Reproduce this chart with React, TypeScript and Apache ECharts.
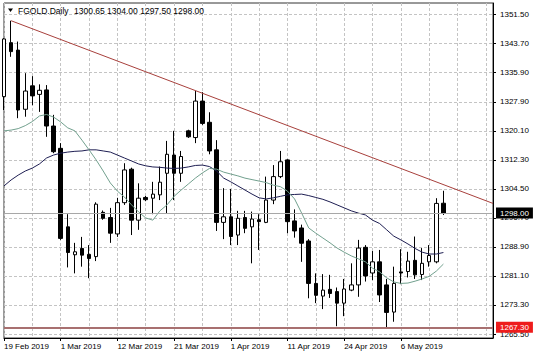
import React, { useEffect, useRef } from 'react';
import * as echarts from 'echarts';

// ---- data ----
const symbolName = 'FGOLD.Daily';
const dateLabels = ['19 Feb 2019', '1 Mar 2019', '12 Mar 2019', '21 Mar 2019', '1 Apr 2019', '11 Apr 2019', '24 Apr 2019', '6 May 2019'];
const slotCount = 70; // bars + empty right shift

const open = [
  1329.3, 1343.8, 1341.8, 1325.9, 1332.2, 1329.9, 1331.1, 1321.4, 1315.4, 1294.3,
  1286.8, 1288.5, 1286.9, 1286.3, 1298.2, 1296.8, 1292.4, 1300.8, 1309.8, 1296.1,
  1302.2, 1302.0, 1302.9, 1308.7, 1313.6, 1308.7, 1320.1, 1318.3, 1328.1, 1322.4,
  1315.0, 1295.5, 1297.0, 1292.1, 1296.8, 1294.3, 1296.2, 1295.5, 1301.5, 1307.8,
  1312.3, 1295.9, 1294.0, 1290.5, 1279.1, 1275.7, 1277.5, 1276.9, 1273.8, 1277.3,
  1278.7, 1288.8, 1281.9, 1284.9, 1278.7, 1271.4, 1282.2, 1282.3, 1285.3, 1281.5,
  1284.9, 1284.9, 1300.65,
];
const high = [
  1345.0, 1349.7, 1344.1, 1335.6, 1334.8, 1332.6, 1332.4, 1324.4, 1316.8, 1297.7,
  1290.0, 1291.6, 1289.4, 1300.9, 1298.7, 1299.4, 1302.1, 1311.4, 1310.2, 1306.0,
  1302.6, 1306.4, 1310.5, 1317.4, 1320.1, 1314.7, 1320.4, 1330.8, 1330.5, 1325.1,
  1317.6, 1304.7, 1304.5, 1298.6, 1298.6, 1298.4, 1297.7, 1307.8, 1310.9, 1314.7,
  1312.5, 1299.0, 1294.9, 1291.0, 1281.8, 1281.6, 1281.4, 1278.0, 1280.3, 1284.5,
  1290.8, 1289.4, 1287.8, 1288.1, 1280.3, 1283.6, 1288.3, 1287.6, 1291.7, 1288.6,
  1289.4, 1302.0, 1304.0,
];
const low = [
  1325.7, 1340.0, 1323.5, 1323.9, 1327.0, 1325.2, 1318.5, 1314.1, 1290.8, 1283.4,
  1281.8, 1283.6, 1280.5, 1285.1, 1296.2, 1290.0, 1291.6, 1300.2, 1292.1, 1293.5,
  1301.2, 1297.7, 1301.5, 1297.9, 1301.5, 1306.4, 1318.2, 1316.8, 1321.7, 1313.8,
  1293.2, 1291.0, 1289.4, 1289.4, 1292.6, 1284.5, 1288.1, 1295.3, 1300.4, 1307.4,
  1292.6, 1291.4, 1284.9, 1275.1, 1273.8, 1272.2, 1275.2, 1267.6, 1270.3, 1277.0,
  1275.5, 1279.6, 1280.0, 1274.1, 1267.3, 1268.8, 1278.9, 1280.7, 1280.3, 1280.0,
  1283.6, 1284.5, 1297.5,
];
const close = [
  1344.8, 1341.4, 1325.7, 1330.8, 1329.5, 1331.0, 1321.4, 1314.5, 1291.2, 1287.4,
  1287.6, 1286.7, 1285.8, 1300.4, 1296.6, 1292.6, 1300.8, 1309.6, 1296.1, 1302.0,
  1301.6, 1303.1, 1306.3, 1313.8, 1308.7, 1313.2, 1318.5, 1328.1, 1322.1, 1314.7,
  1295.5, 1297.0, 1291.7, 1296.6, 1293.9, 1296.4, 1295.7, 1301.5, 1307.8, 1311.8,
  1295.7, 1293.2, 1289.9, 1279.1, 1275.9, 1277.3, 1276.4, 1273.8, 1277.6, 1278.7,
  1288.6, 1281.1, 1284.9, 1276.0, 1271.3, 1279.1, 1281.9, 1285.1, 1281.4, 1284.5,
  1286.6, 1300.6, 1298.0,
];
// slow (dark navy) moving average
const maSlow = [
  1305.3, 1306.9, 1308.2, 1309.3, 1310.1, 1311.2, 1312.8, 1313.6, 1314.1, 1314.4,
  1314.6, 1314.7, 1315.0, 1315.0, 1314.7, 1314.4, 1313.6, 1312.8, 1312.0, 1311.2,
  1310.7, 1310.4, 1310.3, 1310.1, 1310.0, 1310.1, 1310.4, 1310.8, 1310.9, 1310.5,
  1309.3, 1307.4, 1306.4, 1305.3, 1304.2, 1303.1, 1302.1, 1301.8, 1302.1, 1302.5,
  1302.9, 1303.0, 1303.1, 1302.7, 1302.2, 1301.7, 1301.0, 1300.2, 1299.4, 1298.6,
  1298.0, 1297.5, 1296.1, 1295.2, 1293.5, 1291.8, 1290.8, 1289.7, 1288.5, 1287.5,
  1287.0, 1287.0, 1287.4,
];
// fast (grey-green) moving average
const maFast = [
  1320.1, 1320.3, 1320.7, 1321.5, 1322.6, 1324.1, 1324.5, 1323.8, 1322.5, 1320.9,
  1320.1, 1317.6, 1315.0, 1312.3, 1309.3, 1306.1, 1303.9, 1302.3, 1300.2, 1298.3,
  1296.7, 1296.1, 1298.6, 1300.2, 1302.5, 1304.2, 1305.8, 1307.4, 1308.8, 1310.0,
  1309.8, 1309.0, 1308.5, 1308.0, 1307.4, 1307.0, 1306.6, 1306.2, 1305.5, 1305.1,
  1303.9, 1301.8, 1298.0, 1294.0, 1292.6, 1291.3, 1290.0, 1288.6, 1287.5, 1286.5,
  1285.7, 1284.9, 1283.2, 1282.2, 1280.6, 1279.5, 1279.1, 1279.2, 1279.7, 1280.3,
  1281.0, 1282.4, 1284.3,
];
const priceTicks = [1351.5, 1343.7, 1335.9, 1327.9, 1320.1, 1312.3, 1304.5, 1296.7, 1288.9, 1281.1, 1273.3, 1265.5];
const trendLine = [[1, 1349.7], [69, 1300.6]];
const lastPrice = 1298.0;
const supportLevel = 1267.3;
const yRange = [1264.43, 1354.46];

const FONT = '"Liberation Sans", Arial, sans-serif';

export default function App() {
  const ref = useRef<HTMLDivElement>(null);
  useEffect(() => {
    const chart = echarts.init(ref.current!, null, { renderer: 'svg' });
    const categories = Array.from({ length: slotCount }, (_, i) => `b${i}`);
    const candles = open.map((o, i) => [o, close[i], low[i], high[i]]);
    const labelAt = (i: number) => i % 8 === 0 && i / 8 < dateLabels.length;
    const last = open.length - 1;
    const header = [open[last], high[last], low[last], close[last]].map((v) => v.toFixed(2)).join(' ');

    chart.setOption({
      animation: false,
      textStyle: { fontFamily: FONT },
      grid: { left: 4, right: 43, top: 3, bottom: 20, show: true, borderColor: '#333', borderWidth: 1 },
      xAxis: {
        type: 'category',
        data: categories,
        boundaryGap: false,
        axisLine: { lineStyle: { color: '#000', width: 1 } },
        axisTick: { show: true, interval: (i: number) => labelAt(i), length: 3, lineStyle: { color: '#000' } },
        axisLabel: {
          interval: (i: number) => labelAt(i),
          formatter: (_v: string, i: number) => (labelAt(i) ? dateLabels[i / 8] : ''),
          align: 'left',
          color: '#000',
          fontSize: 8,
          fontFamily: FONT,
          margin: 4,
        },
        splitLine: { show: true, interval: (i: number) => i % 4 === 0, lineStyle: { color: '#c4c4c4', type: [3, 2], width: 1 } },
      },
      yAxis: {
        type: 'value',
        position: 'right',
        min: yRange[0],
        max: yRange[1],
        axisLine: { show: true, lineStyle: { color: '#000', width: 1 } },
        axisTick: { show: true, length: 3, customValues: priceTicks, lineStyle: { color: '#000' } },
        axisLabel: {
          customValues: priceTicks,
          formatter: (v: number) => v.toFixed(2),
          color: '#000',
          fontSize: 8,
          fontFamily: FONT,
          margin: 7,
        },
        splitLine: { show: true, lineStyle: { color: '#c4c4c4', type: [3, 2], width: 1 } },
      },
      graphic: [
        { type: 'polygon', z: 100, shape: { points: [[8, 8.5], [13, 8.5], [10.5, 12]] }, style: { fill: '#000' } },
        { type: 'text', z: 100, x: 18, y: 10.5, style: { text: symbolName, fontSize: 8.5, fontFamily: FONT, fill: '#000', verticalAlign: 'middle' } },
        { type: 'text', z: 100, x: 74, y: 10.5, style: { text: header, fontSize: 8.5, fontFamily: FONT, fill: '#000', verticalAlign: 'middle' } },
      ],
      series: [
        {
          type: 'line',
          data: maSlow,
          symbol: 'none',
          lineStyle: { color: '#1e1e52', width: 1 },
          z: 3,
        },
        {
          type: 'line',
          data: maFast,
          symbol: 'none',
          lineStyle: { color: '#72a08e', width: 1 },
          z: 3,
        },
        {
          type: 'candlestick',
          data: candles,
          barWidth: 4,
          z: 2,
          itemStyle: { color: '#ffffff', color0: '#000000', borderColor: '#000000', borderColor0: '#000000', borderWidth: 1 },
          markLine: {
            symbol: 'none',
            silent: true,
            data: [
              [
                { coord: trendLine[0], lineStyle: { color: '#a8403c', width: 1, type: 'solid' }, label: { show: false } },
                { coord: trendLine[1] },
              ],
              {
                yAxis: lastPrice,
                lineStyle: { color: '#a8a8a8', width: 1, type: 'solid' },
                label: {
                  show: true,
                  position: 'end',
                  distance: 3,
                  formatter: lastPrice.toFixed(2),
                  backgroundColor: '#000',
                  color: '#fff',
                  fontSize: 8,
                  fontFamily: FONT,
                  padding: [2, 4, 1, 4],
                },
              },
              {
                yAxis: supportLevel,
                lineStyle: { color: '#a87070', width: 2, type: 'solid' },
                label: {
                  show: true,
                  position: 'end',
                  distance: 3,
                  formatter: supportLevel.toFixed(2),
                  backgroundColor: '#ee1c1c',
                  color: '#fff',
                  fontSize: 8,
                  fontFamily: FONT,
                  padding: [2, 4, 1, 4],
                },
              },
            ],
          },
        },
      ],
    });
    return () => chart.dispose();
  }, []);
  return <div ref={ref} style={{ position: 'fixed', left: 0, top: 0, width: 536, height: 358, background: '#fff' }} />;
}
